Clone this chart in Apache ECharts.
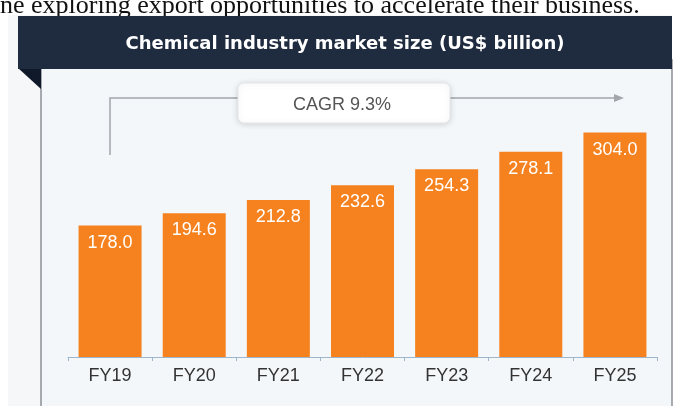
<!DOCTYPE html>
<html>
<head>
<meta charset="utf-8">
<script src="https://cdn.jsdelivr.net/npm/echarts@6/dist/echarts.min.js"></script>
<style>
  html, body { margin: 0; padding: 0; background: #ffffff; }
  #chart { width: 686px; height: 406px; }
</style>
</head>
<body>
<div id="chart"></div>
<script>
var categories = ['FY19', 'FY20', 'FY21', 'FY22', 'FY23', 'FY24', 'FY25'];
var marketSize = [178.0, 194.6, 212.8, 232.6, 254.3, 278.1, 304.0];
var chartTitle = 'Chemical industry market size (US$ billion)';
var cagrText = 'CAGR 9.3%';
var introText = 'ne exploring export opportunities to accelerate their business.';

var chart = echarts.init(document.getElementById('chart'), null, { renderer: 'canvas' });

var option = {
  backgroundColor: '#ffffff',
  animation: false,
  grid: { left: 68, right: 29, top: 106, bottom: 49, containLabel: false },
  xAxis: {
    type: 'category',
    data: categories,
    boundaryGap: true,
    axisLine: { lineStyle: { color: '#9db6cc', width: 1 } },
    axisTick: { show: true, alignWithLabel: false, length: 4, lineStyle: { color: '#9db6cc' } },
    axisLabel: { color: '#333333', fontSize: 18, margin: 10, fontFamily: 'Liberation Sans, Arial, sans-serif' }
  },
  yAxis: {
    type: 'value',
    min: 0,
    max: 340,
    show: false,
    splitLine: { show: false }
  },
  series: [{
    type: 'bar',
    data: marketSize,
    barWidth: 63,
    z: 5,
    itemStyle: { color: '#f5821f' },
    label: {
      show: true,
      position: 'insideTop',
      distance: 8,
      color: '#ffffff',
      fontSize: 18,
      fontFamily: 'Liberation Sans, Arial, sans-serif',
      formatter: function (p) { return p.value.toFixed(1); }
    }
  }],
  graphic: [
    {
      type: 'rect', z: 0,
      shape: { x: 8, y: 15, width: 664, height: 400 },
      style: { fill: '#f6f7f8' }
    },
    {
      type: 'text', z: 1,
      style: { text: introText, x: 0, y: 19, textVerticalAlign: 'bottom', fill: '#111111',
        font: '26px "Liberation Serif", "Times New Roman", serif' }
    },
    {
      type: 'rect', z: 0,
      shape: { x: 41, y: 60, width: 631, height: 360 },
      style: { fill: '#f3f7fa', stroke: '#8c9196', lineWidth: 1.5 }
    },
    {
      type: 'polygon', z: 1,
      shape: { points: [[18, 68], [41, 68], [41, 89]] },
      style: { fill: '#10192a' }
    },
    {
      type: 'rect', z: 2,
      shape: { x: 18, y: 16, width: 654, height: 53 },
      style: { fill: '#1f2b3f' }
    },
    {
      type: 'text', z: 3,
      style: { text: chartTitle, x: 345, y: 44, textAlign: 'center', textVerticalAlign: 'middle',
        fill: '#ffffff', font: 'bold 18px "DejaVu Sans", Arial, sans-serif' }
    },
    {
      type: 'polyline', z: 2,
      shape: { points: [[110, 155], [110, 98], [620, 98]] },
      style: { stroke: '#a3a7ab', lineWidth: 1.5, fill: null }
    },
    {
      type: 'polygon', z: 2,
      shape: { points: [[614, 94], [624, 98], [614, 102]] },
      style: { fill: '#a3a7ab' }
    },
    {
      type: 'rect', z: 3,
      shape: { x: 238, y: 83, width: 212, height: 40, r: 6 },
      style: { fill: '#ffffff', stroke: '#e4e7ea', lineWidth: 1,
        shadowBlur: 6, shadowColor: 'rgba(0,0,0,0.15)', shadowOffsetY: 1 }
    },
    {
      type: 'text', z: 4,
      style: { text: cagrText, x: 342, y: 105, textAlign: 'center', textVerticalAlign: 'middle',
        fill: '#555555', font: '18px "Liberation Sans", Arial, sans-serif' }
    }
  ]
};

chart.setOption(option);
</script>
</body>
</html>
